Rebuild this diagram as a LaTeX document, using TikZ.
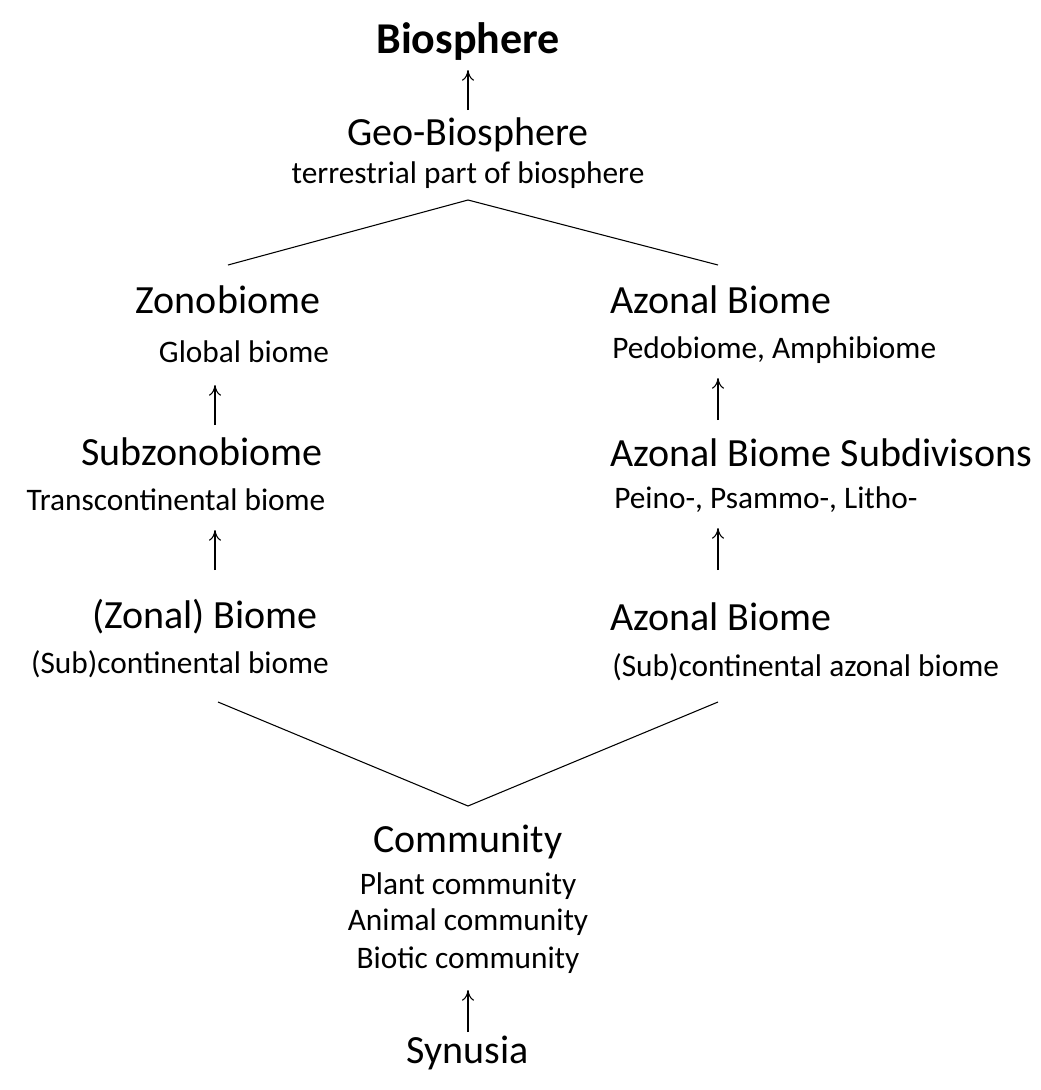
\documentclass[tikz,border=0pt]{standalone}
\usepackage{fontspec}
\setmainfont{Carlito}
\usetikzlibrary{arrows.meta}
\begin{document}
\begin{tikzpicture}[x=0.75pt,y=-0.75pt,
  big/.style={font=\fontsize{30}{36}\selectfont,inner sep=0pt},
  small/.style={font=\fontsize{23.5}{28}\selectfont,inner sep=0pt},
  arr/.style={-{To[length=8pt,width=9pt]},line width=0.8pt},
  ln/.style={line width=0.8pt}]
\useasboundingbox (0,0) rectangle (1040,1090);
\node[inner sep=0pt,font=\fontsize{33}{40}\selectfont\bfseries] (bio) at (468,42) {Biosphere};
\node[big] (geo) at (468,135) {Geo-Biosphere};
\node[small] (geos) at (468,175) {terrestrial part of biosphere};
\coordinate (top) at (468,200);
\coordinate (tl) at (228,265);
\coordinate (tr) at (718,265);
\node[big] (zono) at (228,300) {Zonobiome};
\node[small] (zonos) at (244,352) {Global biome};
\node[big] (subz) at (202,452) {Subzonobiome};
\node[small] (subzs) at (176,500) {Transcontinental biome};
\node[big] (zb) at (205,617) {(Zonal) Biome};
\node[small] (zbs) at (180,664) {(Sub)continental biome};
\node[big,anchor=west] (az1) at (610,300) {Azonal Biome};
\node[small,anchor=west] (az1s) at (612,350) {Pedobiome, Amphibiome};
\node[big,anchor=west] (az2) at (610,453) {Azonal Biome Subdivisons};
\node[small,anchor=west] (az2s) at (614,500) {Peino-, Psammo-, Litho-};
\node[big,anchor=west] (az3) at (610,617) {Azonal Biome};
\node[small,anchor=west] (az3s) at (612,667) {(Sub)continental azonal biome};
\coordinate (bl) at (218,702);
\coordinate (br) at (718,702);
\coordinate (bot) at (468,806);
\node[big] (com) at (468,842) {Community};
\node[small] (c1) at (468,886) {Plant community};
\node[small] (c2) at (468,922) {Animal community};
\node[small] (c3) at (468,960) {Biotic community};
\node[big] (syn) at (468,1053) {Synusia};
\draw[ln] (tl) -- (top) -- (tr);
\draw[ln] (bl) -- (bot) -- (br);
\coordinate (a0) at (468,110); \coordinate (b0) at (468,70);
\coordinate (a1) at (215,425); \coordinate (a2) at (215,385);
\coordinate (a3) at (215,570); \coordinate (a4) at (215,530);
\coordinate (a5) at (718,420); \coordinate (a6) at (718,378);
\coordinate (a7) at (718,570); \coordinate (a8) at (718,528);
\coordinate (a9) at (468,1032); \coordinate (a10) at (468,990);
\draw[arr] (a0) -- (b0);
\draw[arr] (a1) -- (a2);
\draw[arr] (a3) -- (a4);
\draw[arr] (a5) -- (a6);
\draw[arr] (a7) -- (a8);
\draw[arr] (a9) -- (a10);
\end{tikzpicture}
\end{document}
